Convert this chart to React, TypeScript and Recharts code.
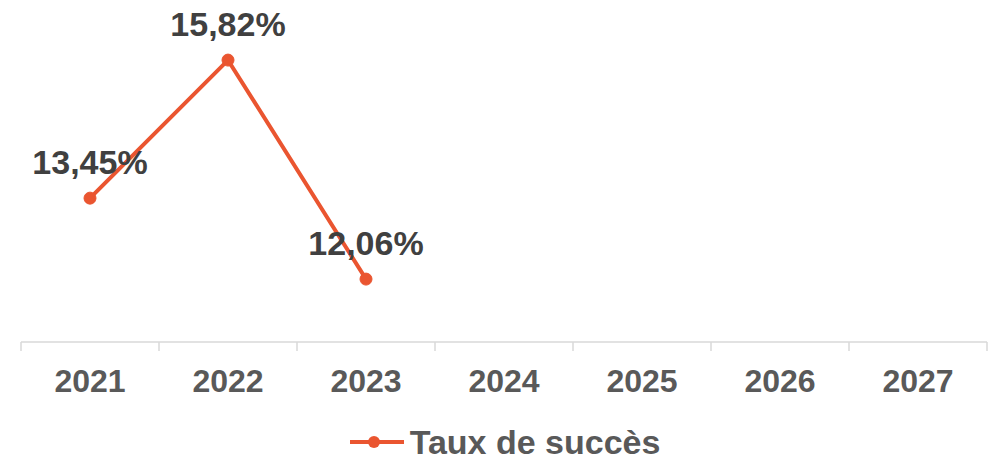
import React from "react";
import { LineChart, Line, XAxis, YAxis, LabelList, Legend } from "recharts";

const years = ["2021", "2022", "2023", "2024", "2025", "2026", "2027"];
const successRate: (number | null)[] = [13.45, 15.82, 12.06, null, null, null, null];
const seriesName = "Taux de succès";

const LINE_COLOR = "#EA5530";
const FONT = "'Liberation Sans', Arial, Helvetica, sans-serif";

const data = years.map((y, i) => ({ pos: i + 0.5, year: y, value: successRate[i] }));
const tickValues: number[] = [];
for (let i = 0; i <= years.length; i++) {
  tickValues.push(i);
  if (i < years.length) tickValues.push(i + 0.5);
}

const fmt = (v: number) => v.toFixed(2).replace(".", ",") + "%";

const AxisTick = (props: any) => {
  const { x, y, payload } = props;
  const v = payload.value as number;
  if (Number.isInteger(v)) {
    return <line x1={x} x2={x} y1={y} y2={y + 9} stroke="#D9D9D9" strokeWidth={1.5} />;
  }
  const label = years[Math.floor(v)];
  return (
    <text x={x} y={y + 39} textAnchor="middle" dominantBaseline="central" fill="#595959"
      fontFamily={FONT} fontWeight="bold" fontSize={32}>
      {label}
    </text>
  );
};

const DataLabel = (props: any) => {
  const { x, y, value } = props;
  if (value == null) return null;
  return (
    <text x={x} y={y - 36} textAnchor="middle" dominantBaseline="central" fill="#404040"
      fontFamily={FONT} fontWeight="bold" fontSize={34}>
      {fmt(value)}
    </text>
  );
};

const LegendContent = () => (
  <div style={{ height: 40, display: "flex", alignItems: "center", justifyContent: "center", fontFamily: FONT }}>
    <svg width={58} height={20} style={{ marginRight: 4 }}>
      <line x1={2} x2={56} y1={10} y2={10} stroke={LINE_COLOR} strokeWidth={4} />
      <circle cx={26} cy={10} r={6} fill={LINE_COLOR} />
    </svg>
    <span style={{ color: "#595959", fontWeight: "bold", fontSize: 34 }}>{seriesName}</span>
  </div>
);

export default function App() {
  return (
    <div style={{ marginTop: -8, width: 984, height: 462 }}>
      <LineChart width={984} height={462} data={data} margin={{ top: 10, right: 5, bottom: 0, left: 13 }}>
        <XAxis
          dataKey="pos"
          type="number"
          domain={[0, years.length]}
          ticks={tickValues}
          interval={0}
          tickLine={false}
          tickSize={0}
          tickMargin={0}
          axisLine={{ stroke: "#D9D9D9", strokeWidth: 1.5 }}
          tick={<AxisTick />}
          height={80}
        />
        <YAxis hide domain={[10.98, 16.68]} />
        <Legend verticalAlign="bottom" content={<LegendContent />} />
        <Line
          type="linear"
          dataKey="value"
          name={seriesName}
          stroke={LINE_COLOR}
          strokeWidth={4}
          dot={{ r: 6, fill: LINE_COLOR, stroke: LINE_COLOR, strokeWidth: 1 }}
          activeDot={false}
          isAnimationActive={false}
          connectNulls={false}
        >
          <LabelList dataKey="value" content={<DataLabel />} />
        </Line>
      </LineChart>
    </div>
  );
}
